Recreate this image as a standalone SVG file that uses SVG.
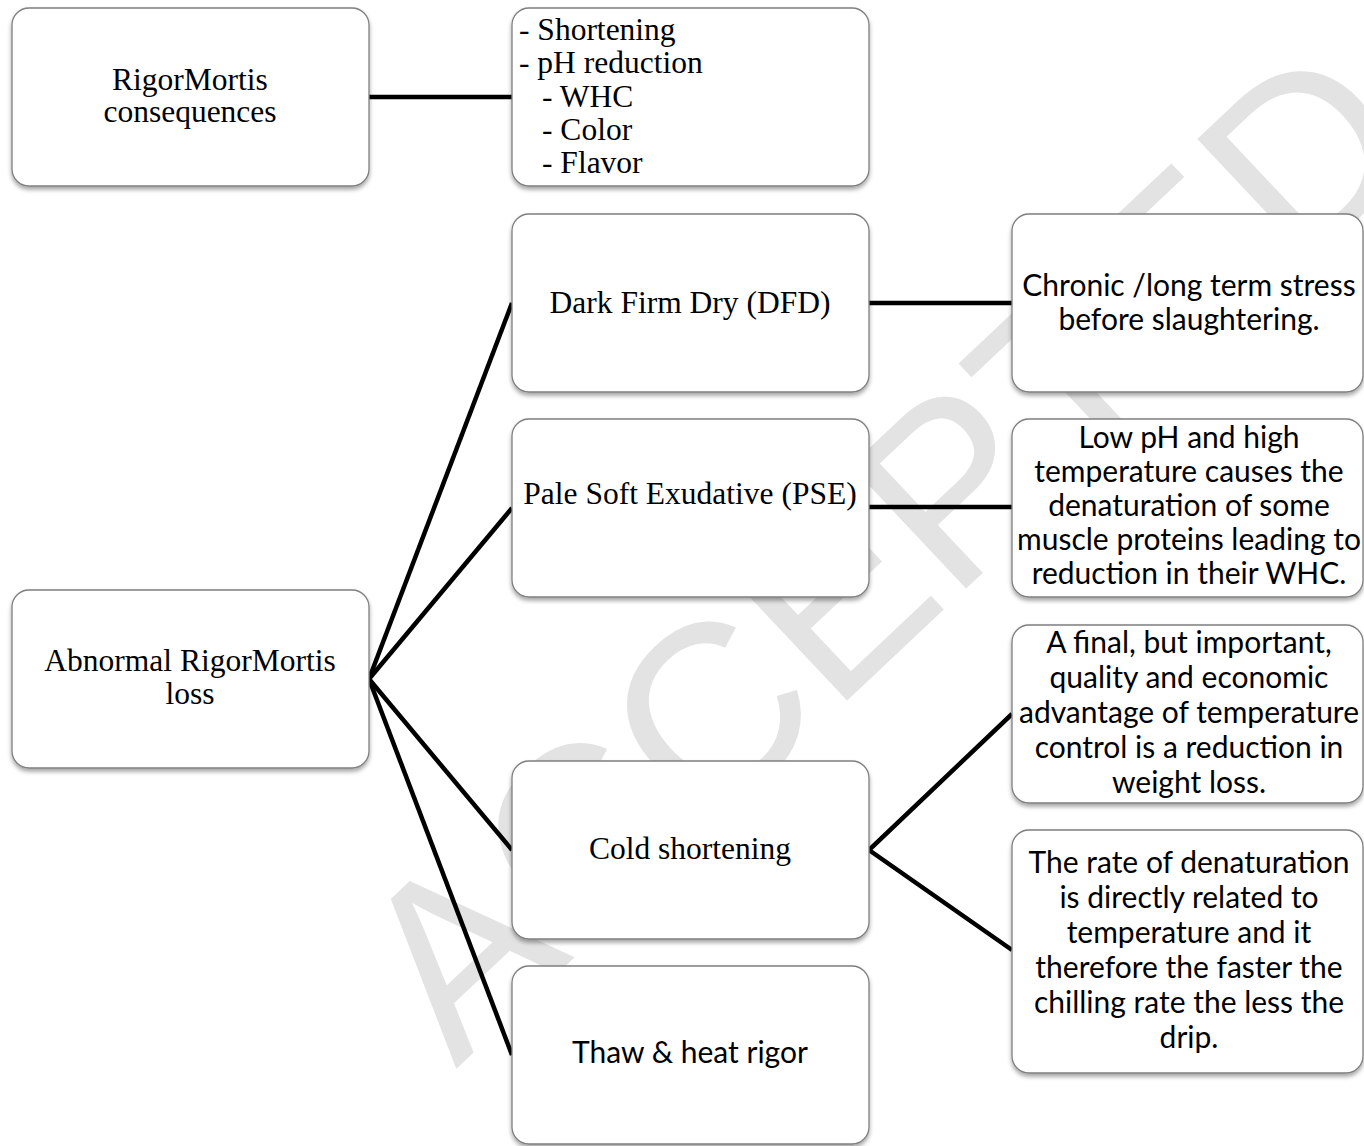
<svg xmlns="http://www.w3.org/2000/svg" width="1364" height="1146" viewBox="0 0 1364 1146">
<defs>
<filter id="sh" x="-10%" y="-10%" width="120%" height="130%">
<feDropShadow dx="0" dy="3" stdDeviation="2" flood-color="#000" flood-opacity="0.35"/>
</filter>
<style>
.box{fill:#fff;stroke:#7f7f7f;stroke-width:1.3;filter:url(#sh)}
.tr{font-family:"Liberation Serif","Times New Roman",serif;font-size:31.5px;fill:#000}
.ca{font-family:Lato,"Open Sans",sans-serif;font-size:30px;fill:#000;text-anchor:middle}
.mid{text-anchor:middle}
.ln{stroke:#000;stroke-width:4.5;fill:none;stroke-linecap:butt}
.wm{font-family:"Liberation Sans",Arial,sans-serif;font-size:245px;fill:#e3e3e3}
</style>
</defs>
<rect width="1364" height="1146" fill="#fff"/>
<text class="wm" transform="translate(456,1069) rotate(-43.3)" x="0" y="0">ACCEPTED</text>
<g id="connectors">
<line class="ln" x1="369" y1="97" x2="512" y2="97"/>
<line class="ln" x1="369" y1="679" x2="512" y2="303"/>
<line class="ln" x1="369" y1="679" x2="512" y2="508"/>
<line class="ln" x1="369" y1="679" x2="512" y2="850"/>
<line class="ln" x1="369" y1="679" x2="512" y2="1055"/>
<line class="ln" x1="869" y1="303" x2="1012" y2="303"/>
<line class="ln" x1="869" y1="507" x2="1012" y2="507"/>
<polyline class="ln" points="1012,714 869,850 1012,950"/>
</g>
<g id="n-consequences">
<rect class="box" x="12" y="8" width="357" height="178" rx="17"/>
<text class="tr mid" x="190" y="90">RigorMortis</text>
<text class="tr mid" x="190" y="122">consequences</text>
</g>
<g id="n-list">
<rect class="box" x="512" y="8" width="357" height="178" rx="17"/>
<text class="tr" x="519" y="40">- Shortening</text>
<text class="tr" x="519" y="73">- pH reduction</text>
<text class="tr" x="542" y="107">- WHC</text>
<text class="tr" x="542" y="140">- Color</text>
<text class="tr" x="542" y="173">- Flavor</text>
</g>
<g id="n-dfd">
<rect class="box" x="512" y="214" width="357" height="178" rx="17"/>
<text class="tr mid" x="690" y="313">Dark Firm Dry (DFD)</text>
</g>
<g id="n-pse">
<rect class="box" x="512" y="419" width="357" height="178" rx="17"/>
<text class="tr mid" x="690" y="504">Pale Soft Exudative (PSE)</text>
</g>
<g id="n-abnormal">
<rect class="box" x="12" y="590" width="357" height="178" rx="17"/>
<text class="tr mid" x="190" y="671">Abnormal RigorMortis</text>
<text class="tr mid" x="190" y="704">loss</text>
</g>
<g id="n-cold">
<rect class="box" x="512" y="761" width="357" height="178" rx="17"/>
<text class="tr mid" x="690" y="859">Cold shortening</text>
</g>
<g id="n-thaw">
<rect class="box" x="512" y="966" width="357" height="178" rx="17"/>
<text class="ca" x="690" y="1063">Thaw &amp; heat rigor</text>
</g>
<g id="n-chronic">
<rect class="box" x="1012" y="214" width="351" height="178" rx="17"/>
<text class="ca" x="1189" y="296">Chronic /long term stress</text>
<text class="ca" x="1189" y="330">before slaughtering.</text>
</g>
<g id="n-lowph">
<rect class="box" x="1012" y="419" width="351" height="178" rx="17"/>
<text class="ca" x="1189" y="448">Low pH and high</text>
<text class="ca" x="1189" y="482">temperature causes the</text>
<text class="ca" x="1189" y="516">denaturation of some</text>
<text class="ca" x="1189" y="550">muscle proteins leading to</text>
<text class="ca" x="1189" y="584">reduction in their WHC.</text>
</g>
<g id="n-final">
<rect class="box" x="1012" y="625" width="351" height="178" rx="17"/>
<text class="ca" x="1189" y="653">A final, but important,</text>
<text class="ca" x="1189" y="688">quality and economic</text>
<text class="ca" x="1189" y="723">advantage of temperature</text>
<text class="ca" x="1189" y="758">control is a reduction in</text>
<text class="ca" x="1189" y="793">weight loss.</text>
</g>
<g id="n-rate">
<rect class="box" x="1012" y="830" width="351" height="243" rx="17"/>
<text class="ca" x="1189" y="873">The rate of denaturation</text>
<text class="ca" x="1189" y="908">is directly related to</text>
<text class="ca" x="1189" y="943">temperature and it</text>
<text class="ca" x="1189" y="978">therefore the faster the</text>
<text class="ca" x="1189" y="1013">chilling rate the less the</text>
<text class="ca" x="1189" y="1048">drip.</text>
</g>
</svg>
